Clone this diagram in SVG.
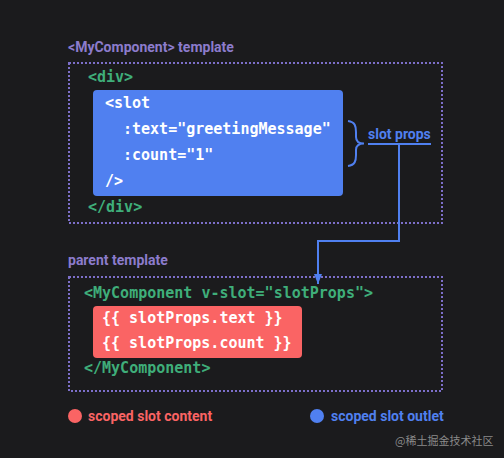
<svg xmlns="http://www.w3.org/2000/svg" width="504" height="458" viewBox="0 0 504 458">
<defs>
<style>
.bg{fill:#1b1b1d}
.frame{fill:none;stroke:#7d6fc9;stroke-width:2;stroke-dasharray:2 2}
.title{font-family:Roboto,"Liberation Sans",sans-serif;font-weight:bold;font-size:14px;fill:#8c7ccc}
.code{font-family:"DejaVu Sans Mono","Liberation Mono",monospace;font-weight:bold;font-size:15px}
.green{fill:#3fae7a}
.white{fill:#ffffff}
.blue{fill:#5080f0}
.red{fill:#fa6464}
.lbl{font-family:Roboto,"Liberation Sans",sans-serif;font-weight:bold;font-size:14px}
.wire{fill:none;stroke:#5080f0;stroke-width:2}
</style>
<marker id="arr" viewBox="0 0 10 8" refX="10" refY="4" markerWidth="10" markerHeight="10" markerUnits="userSpaceOnUse" orient="auto">
<path d="M0,0 L10,4 L0,8 Z" fill="#5080f0"/>
</marker>
</defs>
<rect class="bg" x="0" y="0" width="504" height="458"/>

<g id="child-template">
<text class="title" x="68" y="52">&lt;MyComponent&gt; template</text>
<rect class="frame" x="69" y="63" width="373" height="160"/>
<text class="code green" x="88" y="82">&lt;div&gt;</text>
<text class="code green" x="88" y="212">&lt;/div&gt;</text>
</g>

<g id="slot-outlet">
<rect class="blue" x="93" y="90" width="250" height="106" rx="4"/>
<text class="code white" x="105" y="108">&lt;slot</text>
<text class="code white" x="123" y="134">:text="greetingMessage"</text>
<text class="code white" x="123" y="160">:count="1"</text>
<text class="code white" x="105" y="186">/&gt;</text>
</g>

<g id="slot-props">
<path class="wire" d="M348,121 C355,122 356,126 356,132 L356,137 C356,141 359,143.5 364,143.5 C359,143.5 356,146 356,150 L356,155 C356,161 355,165 348,166"/>
<text class="lbl blue" x="368" y="139">slot props</text>
</g>

<g id="parent-template">
<text class="title" x="68" y="265">parent template</text>
<rect class="frame" x="69" y="277" width="373" height="114"/>
<text class="code green" x="84" y="298">&lt;MyComponent v-slot="slotProps"&gt;</text>
<text class="code green" x="84" y="373">&lt;/MyComponent&gt;</text>
</g>

<g id="slot-content">
<rect class="red" x="93" y="306" width="209" height="52" rx="4"/>
<text class="code white" x="102" y="323">{{ slotProps.text }}</text>
<text class="code white" x="102" y="348">{{ slotProps.count }}</text>
</g>

<g id="connectors">
<path class="wire" d="M368,144 L431,144"/>
<path class="wire" d="M399,144 L399,241 L318,241 L318,284" marker-end="url(#arr)"/>
</g>

<g id="legend">
<circle class="red" cx="75" cy="416" r="7"/>
<text class="lbl red" x="88" y="421">scoped slot content</text>
<circle class="blue" cx="317" cy="416" r="7"/>
<text class="lbl blue" x="331" y="421">scoped slot outlet</text>
</g>

<text x="395" y="445" font-family="'Noto Sans CJK SC',sans-serif" font-size="11" fill="#8a8a8a">@稀土掘金技术社区</text>
</svg>
